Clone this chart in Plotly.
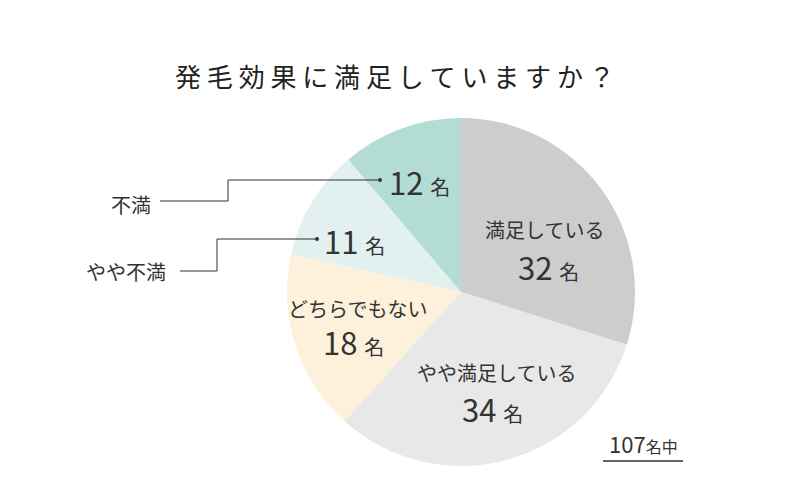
import plotly.graph_objects as go

categories = ["満足している", "やや満足している", "どちらでもない", "やや不満", "不満"]
counts = [32, 34, 18, 11, 12]
colors = ["#cdcdcd", "#e8e8e8", "#fdf1db", "#e2f1ef", "#b3ddd4"]
title_text = "発毛効果に満足していますか？"
total_text = "107"

W, H = 800, 500
OFF = 8  # page body margin offset
FONT = "Noto Sans CJK JP"
TXT = "#333333"

def px(x):
    return (x - OFF) / W

def py(y):
    return 1 - (y - OFF) / H

cx, cy, r = 461, 292, 174

fig = go.Figure(go.Pie(
    labels=categories, values=counts, sort=False, direction="clockwise",
    rotation=0, marker=dict(colors=colors, line=dict(width=0)),
    textinfo="none", hoverinfo="none", showlegend=False,
    domain=dict(x=[px(cx - r), px(cx + r)], y=[py(cy + r), py(cy - r)]),
))

ann = []

def add(x, y, text, size, anchor="center", color=TXT):
    ann.append(dict(x=px(x), y=py(y), xref="paper", yref="paper", text=text,
                    showarrow=False, xanchor=anchor, yanchor="middle",
                    font=dict(family=FONT, size=size, color=color)))

def num(n):
    return f"{n} <span style='font-size:20px'>名</span>"

# title with letter spacing
add(395, 75, " ".join(title_text), 26, color="#222222")

add(544, 230, categories[0], 20)
add(548, 266, num(counts[0]), 31)
add(496, 372, categories[1], 20)
add(493, 408, num(counts[1]), 31)
add(357, 308, categories[2], 20)
add(353, 341, num(counts[2]), 31)
add(322, 241, num(counts[3]), 31, "left")
add(387, 181, num(counts[4]), 31, "left")

add(131, 204, categories[4], 20)
add(126, 271, categories[3], 20)

add(643, 443, f"{total_text}<span style='font-size:16px'>名中</span>", 22)

shapes = []
def seg(x0, y0, x1, y1):
    shapes.append(dict(type="line", xref="paper", yref="paper",
                       x0=px(x0), y0=py(y0), x1=px(x1), y1=py(y1),
                       line=dict(color="#333333", width=1)))

seg(160, 201, 228, 201); seg(228, 201, 228, 180); seg(228, 180, 380, 180)
seg(180, 271, 217, 271); seg(217, 271, 217, 239); seg(217, 239, 317, 239)
for (dx, dy) in [(380, 180), (317, 239)]:
    shapes.append(dict(type="circle", xref="paper", yref="paper",
                       x0=px(dx - 2), x1=px(dx + 2), y0=py(dy + 2), y1=py(dy - 2),
                       fillcolor="#333333", line=dict(width=0)))
shapes.append(dict(type="line", xref="paper", yref="paper",
                   x0=px(603), x1=px(683), y0=py(461), y1=py(461),
                   line=dict(color="#333333", width=1.5)))

fig.update_layout(width=W, height=H, margin=dict(l=0, r=0, t=0, b=0),
                  paper_bgcolor="white", plot_bgcolor="white",
                  annotations=ann, shapes=shapes)
fig.write_html("out.html")
